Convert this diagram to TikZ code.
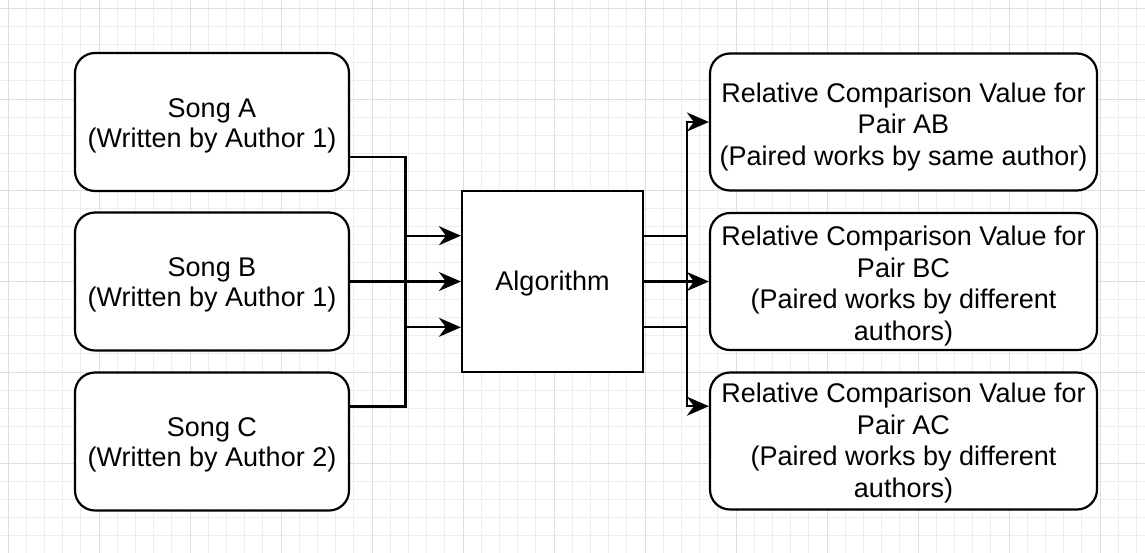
\documentclass[tikz,border=0pt]{standalone}
\usepackage{fontspec}
\setmainfont{Liberation Sans}
\usetikzlibrary{arrows.meta,calc}

% extra height on the first text line, to sit the text a bit lower
\newcommand{\padtop}[1]{\rule{0pt}{#1}}

\tikzset{
    songbox/.style={draw, fill=white, rounded corners=20pt, minimum width=274pt,
        minimum height=138pt, inner sep=0pt, align=center, font=\fontsize{27}{30}\selectfont},
    pairbox/.style={draw, fill=white, rounded corners=20pt, minimum width=387pt,
        minimum height=137pt, inner sep=0pt, align=center, font=\fontsize{27}{31.5}\selectfont},
    algbox/.style={draw, fill=white, minimum width=181pt, minimum height=181pt,
        inner sep=0pt, font=\fontsize{27}{30}\selectfont},
    conn/.style={-{Stealth[length=22pt,width=19pt,inset=7pt]}},
}

\begin{document}
\begin{tikzpicture}[x=1pt, y=-1pt, line width=2.2pt]
    \useasboundingbox (0,0) rectangle (1145,552);
    % grid
    \begin{scope}[shift={(8,8)}]
    \clip (-8,-8) rectangle (1137,544);
    \draw[line width=0.8pt, black!7] (-20,-20) grid[step=18.2pt] (1160,560);
    \draw[line width=0.9pt, black!13] (-20,-20) grid[step=91pt] (1160,560);
    \end{scope}

    % inputs
    \node[songbox] (songA) at (212,122) {\padtop{26pt}Song A\\(Written by Author 1)};
    \node[songbox] (songB) at (212,281.5) {\padtop{26pt}Song B\\(Written by Author 1)};
    \node[songbox] (songC) at (212,441.5) {\padtop{26pt}Song C\\(Written by Author 2)};

    \node[algbox] (alg) at (552.5,281.5) {\padtop{24pt}Algorithm};

    % outputs
    \node[pairbox] (pairAB) at (903.5,122) {\padtop{29pt}Relative Comparison Value for\\Pair AB\\(Paired works by same author)};
    \node[pairbox] (pairBC) at (903.5,281.5) {\padtop{29pt}Relative Comparison Value for\\Pair BC\\(Paired works by different\\authors)};
    \node[pairbox] (pairAC) at (903.5,441) {\padtop{24pt}Relative Comparison Value for\\Pair AC\\(Paired works by different\\authors)};

    \coordinate (outA) at ($(songA.north east)!0.75!(songA.south east)$);
    \coordinate (outC) at ($(songC.north east)!0.25!(songC.south east)$);
    \coordinate (inA) at ($(alg.north west)!0.25!(alg.south west)$);
    \coordinate (inC) at ($(alg.north west)!0.75!(alg.south west)$);
    \coordinate (resA) at ($(alg.north east)!0.25!(alg.south east)$);
    \coordinate (resC) at ($(alg.north east)!0.75!(alg.south east)$);
    \coordinate (inAC) at ($(pairAC.north west)!0.25!(pairAC.south west)$);
    \coordinate (turnL) at ($(songA.east)!0.5!(alg.west)$);
    \coordinate (turnR) at ($(pairAB.west)+(-22,0)$);

    \draw[conn] (outA) -| (turnL) |- (inA);
    \draw[conn] (songB.east) -- (alg.west);
    \draw[conn] (outC) -| (turnL) |- (inC);

    \draw[conn] (resA) -| (turnR) |- (pairAB.west);
    \draw[conn] (alg.east) -- (pairBC.west);
    \draw[conn] (resC) -| (turnR) |- (inAC);
\end{tikzpicture}
\end{document}
